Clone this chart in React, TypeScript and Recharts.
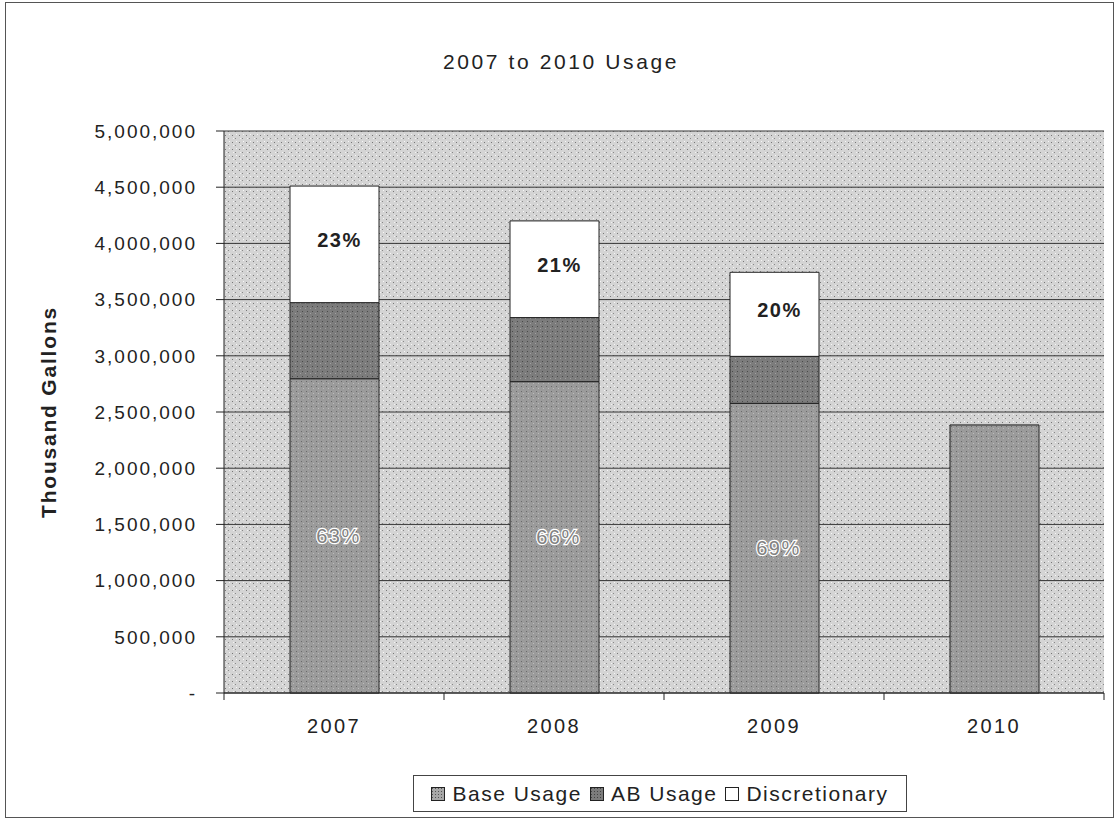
import { BarChart, Bar, XAxis, YAxis, CartesianGrid, LabelList, Label } from "recharts";

const years = ["2007", "2008", "2009", "2010"];
const baseUsage = [2796000, 2770000, 2577000, 2385000];
const abUsage = [677000, 570000, 418000, 0];
const discretionary = [1037000, 860000, 748000, 0];
const baseLabels = ["63%", "66%", "69%", ""];
const discLabels = ["23%", "21%", "20%", ""];
const yTicks = [0, 500000, 1000000, 1500000, 2000000, 2500000, 3000000, 3500000, 4000000, 4500000, 5000000];
const boundaryTicks = [0, 1, 2, 3, 4];
const legendItems = [
  { name: "Base Usage", fill: "url(#lgBase)" },
  { name: "AB Usage", fill: "url(#lgAB)" },
  { name: "Discretionary", fill: "#fff" },
];

const data = years.map((year, i) => ({
  year,
  idx: i + 0.5,
  base: baseUsage[i],
  ab: abUsage[i],
  disc: discretionary[i],
  baseLbl: baseLabels[i],
  discLbl: discLabels[i],
}));

const FONT = "'Liberation Sans', Arial, sans-serif";

const fmt = (v: number) => (v === 0 ? "-" : v.toLocaleString("en-US"));

function BaseLabel(props: any) {
  const { x, y, width, height, value } = props;
  if (!value) return null;
  return (
    <text x={x + width / 2 + 4} y={y + height / 2} textAnchor="middle" dominantBaseline="central"
      fontFamily={FONT} fontSize={20} letterSpacing={1.5} fill="#828282" stroke="#fff" strokeWidth={2.5}
      style={{ paintOrder: "stroke" }}>
      {value}
    </text>
  );
}

function DiscLabel(props: any) {
  const { x, y, width, height, value } = props;
  if (!value) return null;
  return (
    <text x={x + width / 2 + 5} y={y + height / 2 - 4} textAnchor="middle" dominantBaseline="central"
      fontFamily={FONT} fontSize={20} fontWeight="bold" letterSpacing={1.5} fill="#222">
      {value}
    </text>
  );
}

function Swatch({ fill }: { fill: string }) {
  return (
    <svg width="14" height="14" style={{ marginRight: 7 }}>
      <rect x="0.5" y="0.5" width="13" height="13" fill={fill} stroke="#222" strokeWidth="1" />
    </svg>
  );
}

export default function App() {
  return (
    <div style={{ position: "absolute", left: 0, top: 0, width: 1120, height: 819, background: "#fff", fontFamily: FONT }}>
      <div style={{ position: "absolute", left: 5, top: 2, width: 1107, height: 814, border: "1px solid #555" }} />
      <svg width="0" height="0" style={{ position: "absolute" }}>
        <defs>
          <pattern id="lgBase" width="3" height="3" patternUnits="userSpaceOnUse">
            <rect width="3" height="3" fill="#a8a8a8" />
            <rect x="1" y="1" width="1" height="1" fill="#555" />
          </pattern>
          <pattern id="lgAB" width="3" height="3" patternUnits="userSpaceOnUse">
            <rect width="3" height="3" fill="#7c7c7c" />
            <rect x="1" y="1" width="1" height="1" fill="#444" />
          </pattern>
        </defs>
      </svg>
      <div style={{ position: "absolute", left: 0, top: 0 }}>
        <BarChart width={1120} height={819} data={data} margin={{ top: 131, right: 16, bottom: 85, left: 0 }} barSize={89}>
          <defs>
            <pattern id="speck" width="7" height="7" patternUnits="userSpaceOnUse">
              <rect width="7" height="7" fill="#d4d4d4" />
              <rect x="1" y="2" width="1" height="1" fill="#777" />
              <rect x="4" y="5" width="1" height="1" fill="#888" />
              <rect x="5" y="1" width="1" height="1" fill="#f6f6f6" />
              <rect x="2" y="5" width="1" height="1" fill="#f2f2f2" />
            </pattern>
            <pattern id="speckBase" width="5" height="5" patternUnits="userSpaceOnUse">
              <rect width="5" height="5" fill="#9b9b9b" />
              <rect x="1" y="1" width="1" height="1" fill="#6a6a6a" />
              <rect x="3" y="3" width="1" height="1" fill="#bcbcbc" />
            </pattern>
            <pattern id="speckAB" width="5" height="5" patternUnits="userSpaceOnUse">
              <rect width="5" height="5" fill="#7c7c7c" />
              <rect x="2" y="1" width="1" height="1" fill="#4a4a4a" />
              <rect x="0" y="3" width="1" height="1" fill="#a0a0a0" />
            </pattern>
          </defs>
          <text x={561} y={69} textAnchor="middle" fontFamily={FONT} fontSize={21} letterSpacing={2.6} fill="#222">
            2007 to 2010 Usage
          </text>
          <CartesianGrid vertical={false} stroke="#333" strokeWidth={1} fill="url(#speck)" fillOpacity={1} />
          <XAxis xAxisId="bound" dataKey="idx" type="number" domain={[0, 4]} ticks={boundaryTicks}
            tick={{ fill: "transparent", fontSize: 1 }} interval={0}
            axisLine={{ stroke: "#222" }} tickLine={{ stroke: "#222" }} tickSize={7} height={8} />
          <XAxis xAxisId="cat" dataKey="year" tickLine={false} axisLine={false} height={33}
            tick={{ fill: "#222", fontSize: 20, fontFamily: FONT, letterSpacing: 2.4 }} tickMargin={12} />
          <YAxis domain={[0, 5000000]} ticks={yTicks} interval={0} width={224} tickFormatter={fmt}
            tick={{ fill: "#222", fontSize: 19, fontFamily: FONT, letterSpacing: 2 }}
            axisLine={{ stroke: "#222" }} tickLine={{ stroke: "#222" }} tickSize={8} tickMargin={19}>
            <Label value="Thousand Gallons" angle={-90} position="insideLeft" offset={49}
              style={{ fontSize: 21, fontWeight: "bold", fontFamily: FONT, fill: "#222", textAnchor: "middle", letterSpacing: 1.8 }} />
          </YAxis>
          <Bar xAxisId="cat" dataKey="base" stackId="a" fill="url(#speckBase)" stroke="#222" strokeWidth={1} isAnimationActive={false}>
            <LabelList dataKey="baseLbl" content={BaseLabel} />
          </Bar>
          <Bar xAxisId="cat" dataKey="ab" stackId="a" fill="url(#speckAB)" stroke="#222" strokeWidth={1} isAnimationActive={false} />
          <Bar xAxisId="cat" dataKey="disc" stackId="a" fill="#fff" stroke="#222" strokeWidth={1} isAnimationActive={false}>
            <LabelList dataKey="discLbl" content={DiscLabel} />
          </Bar>
        </BarChart>
      </div>
      <div style={{ position: "absolute", left: 413, top: 775, width: 494, height: 37, border: "1px solid #444", display: "flex", alignItems: "center", justifyContent: "center", fontSize: 21, letterSpacing: 1.5, color: "#222", boxSizing: "border-box", gap: 8 }}>
        {legendItems.map((it) => (
          <span key={it.name} style={{ display: "flex", alignItems: "center" }}>
            <Swatch fill={it.fill} />
            {it.name}
          </span>
        ))}
      </div>
    </div>
  );
}
